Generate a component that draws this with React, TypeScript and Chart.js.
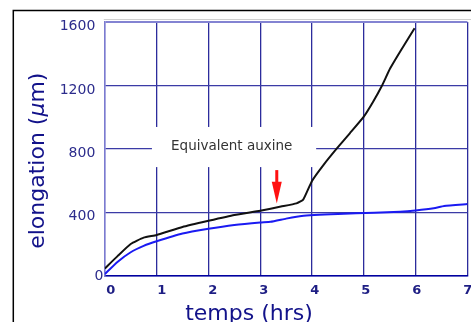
import { useEffect, useRef } from 'react';
import { Chart, registerables } from 'chart.js';

Chart.register(...registerables);

// ---- data ----
const hours = [0, 1, 2, 3, 4, 5, 6, 7];
const elongationTicks = [0, 400, 800, 1200, 1600];

const auxinTime = [0, 0.25, 0.5, 0.75, 1, 1.5, 2, 2.5, 3, 3.4, 3.7, 3.83, 4, 4.22, 4.48, 4.73, 5, 5.18, 5.35, 5.51, 5.7, 5.98];
const auxinElong = [45, 125, 200, 240, 257, 307, 346, 383, 410, 436, 456, 480, 598, 698, 803, 898, 1003, 1097, 1198, 1308, 1413, 1560];

const controlTime = [0, 0.25, 0.5, 0.75, 1, 1.5, 2, 2.5, 3, 3.2, 3.5, 3.8, 4.5, 5.2, 5.7, 6, 6.35, 6.55, 7];
const controlElong = [10, 88, 148, 188, 217, 266, 296, 320, 336, 340, 360, 377, 389, 397, 403, 411, 425, 440, 452];

const annotationText = 'Equivalent auxine';
const annotationBox = [0.91, 4.08, 685, 938]; // x0, x1, y0, y1 (data units)
const annotationAt = [2.45, 813];
const arrowAt = [3.32, 666, 593, 455]; // x, top, head start, tip (data units)

const xTitle = 'temps (hrs)';
const yTitleParts = ['elongation (', 'µ', 'm)'];

const FONT = '"DejaVu Sans", Verdana, sans-serif';
const NAVY = '#12128a';

const decor = {
  id: 'decor',
  beforeDatasetsDraw(chart: any) {
    const { ctx, scales } = chart;
    const x = scales.x, y = scales.y;
    const x0 = x.getPixelForValue(annotationBox[0]);
    const x1 = x.getPixelForValue(annotationBox[1]);
    const y0 = y.getPixelForValue(annotationBox[2]);
    const y1 = y.getPixelForValue(annotationBox[3]);
    ctx.save();
    ctx.fillStyle = '#ffffff';
    ctx.fillRect(x0, y1, x1 - x0, y0 - y1);
    ctx.restore();
  },
  afterDatasetsDraw(chart: any) {
    const { ctx, scales } = chart;
    const x = scales.x, y = scales.y;
    ctx.save();
    ctx.fillStyle = '#333333';
    ctx.font = `13.5px ${FONT}`;
    ctx.textAlign = 'center';
    ctx.textBaseline = 'middle';
    ctx.fillText(annotationText, x.getPixelForValue(annotationAt[0]), y.getPixelForValue(annotationAt[1]));

    // red arrow
    const ax = x.getPixelForValue(arrowAt[0]);
    const top = y.getPixelForValue(arrowAt[1]);
    const hs = y.getPixelForValue(arrowAt[2]);
    const tip = y.getPixelForValue(arrowAt[3]);
    ctx.fillStyle = '#ff1010';
    ctx.fillRect(ax - 1.5, top, 3, hs - top + 1);
    ctx.beginPath();
    ctx.moveTo(ax - 5, hs);
    ctx.lineTo(ax + 5, hs);
    ctx.lineTo(ax, tip);
    ctx.closePath();
    ctx.fill();
    ctx.restore();
  },
  afterDraw(chart: any) {
    const { ctx, scales, chartArea } = chart;
    const x = scales.x, y = scales.y;
    ctx.save();
    // frame
    ctx.strokeStyle = '#000';
    ctx.lineWidth = 1.5;
    ctx.beginPath();
    ctx.moveTo(13.3, chart.height);
    ctx.lineTo(13.3, 10.5);
    ctx.lineTo(chart.width, 10.5);
    ctx.stroke();
    // light line above the plot
    ctx.strokeStyle = '#cfcfcf';
    ctx.lineWidth = 1;
    ctx.beginPath();
    ctx.moveTo(chartArea.left - 1, 19.5);
    ctx.lineTo(chart.width, 19.5);
    ctx.stroke();

    // y tick labels
    ctx.fillStyle = '#2c2c8c';
    ctx.font = `14px ${FONT}`;
    ctx.textAlign = 'right';
    ctx.textBaseline = 'middle';
    for (const v of elongationTicks) {
      const py = y.getPixelForValue(v);
      if (v === 0) ctx.fillText(String(v), chartArea.left - 1.5, py + 1);
      else ctx.fillText(String(v), chartArea.left - 9.5, py + 4.5);
    }
    // x tick labels
    ctx.fillStyle = '#1e1e84';
    ctx.font = `bold 13px ${FONT}`;
    ctx.textAlign = 'center';
    for (const h of hours) {
      const px = x.getPixelForValue(h) + 6 - 0.8 * h;
      ctx.fillText(String(h), px, chartArea.bottom + 15);
    }

    // axis titles
    ctx.fillStyle = NAVY;
    ctx.font = `22px ${FONT}`;
    ctx.textAlign = 'center';
    ctx.textBaseline = 'alphabetic';
    ctx.fillText(xTitle, 249, 319.5);

    ctx.translate(44, 160.7);
    ctx.rotate(-Math.PI / 2);
    const fonts = [`22px ${FONT}`, `italic 22px ${FONT}`, `22px ${FONT}`];
    let total = 0;
    const widths = yTitleParts.map((p, i) => {
      ctx.font = fonts[i];
      const w = ctx.measureText(p).width;
      total += w;
      return w;
    });
    let cx = -total / 2;
    ctx.textAlign = 'left';
    yTitleParts.forEach((p, i) => {
      ctx.font = fonts[i];
      ctx.fillText(p, cx, 0);
      cx += widths[i];
    });
    ctx.restore();
  },
};

export default function App() {
  const ref = useRef<HTMLCanvasElement | null>(null);

  useEffect(() => {
    if (!ref.current) return;
    const gridColor = (c: any) => (c.tick && (c.tick.value === 1600) ? '#8383d2' : '#3b3ba6');
    const xGridColor = (c: any) => (c.tick && c.tick.value === 0 ? '#8383d2' : '#2c2c9c');
    const chart = new Chart(ref.current, {
      type: 'line',
      data: {
        datasets: [
          {
            label: 'auxine',
            data: auxinTime.map((t, i) => ({ x: t, y: auxinElong[i] })),
            borderColor: '#111111',
            borderWidth: 2,
            pointRadius: 0,
            tension: 0.15,
          },
          {
            label: 'témoin',
            data: controlTime.map((t, i) => ({ x: t, y: controlElong[i] })),
            borderColor: '#1a1af2',
            borderWidth: 2,
            pointRadius: 0,
            tension: 0.15,
          },
        ],
      },
      plugins: [decor],
      options: {
        responsive: false,
        animation: false,
        devicePixelRatio: 1,
        layout: { padding: { left: 0, right: 3.6, top: 22, bottom: 0 } },
        plugins: { legend: { display: false }, tooltip: { enabled: false } },
        scales: {
          x: {
            type: 'linear',
            min: 0,
            max: 7,
            ticks: { display: false, stepSize: 1 },
            grid: { color: xGridColor, lineWidth: 1.3, drawTicks: false },
            border: { display: true, color: '#0000a0', width: 1.6 },
            afterFit: (s: any) => {
              s.height = 46.3;
              s.paddingLeft = 0;
              s.paddingRight = 0;
            },
          },
          y: {
            type: 'linear',
            min: 0,
            max: 1600,
            ticks: { display: false, stepSize: 400 },
            grid: { color: gridColor, lineWidth: (c: any) => (c.tick && c.tick.value === 1600 ? 2 : 1.3), drawTicks: false },
            border: { display: true, color: '#7b7bd0', width: 1.5 },
            afterFit: (s: any) => {
              s.width = 104.8;
              s.paddingTop = 0;
              s.paddingBottom = 0;
            },
          },
        },
      },
    });
    return () => chart.destroy();
  }, []);

  return (
    <div style={{ position: 'fixed', left: 0, top: 0, width: 471, height: 322, background: '#fff' }}>
      <canvas ref={ref} width={471} height={322} style={{ width: 471, height: 322, display: 'block' }} />
    </div>
  );
}
